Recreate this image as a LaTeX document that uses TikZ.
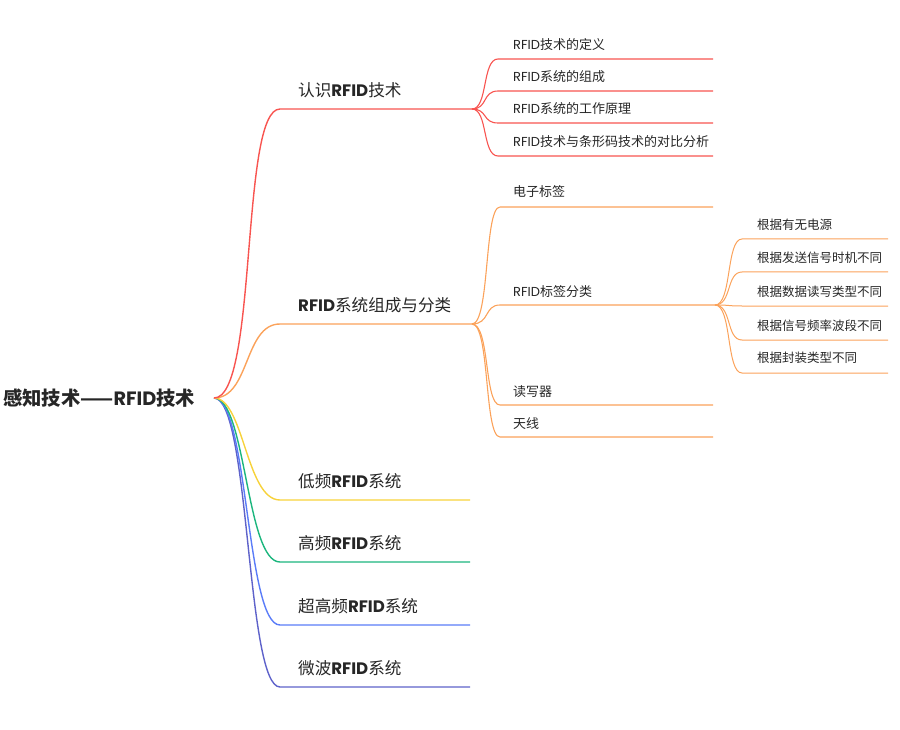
\documentclass[tikz,border=0pt]{standalone}
\usepackage{fontspec}
\setmainfont{Noto Sans CJK SC}
\newfontfamily\lat{Poppins}
\newcommand{\rf}{{\lat RFID}}
\newcommand{\rfb}{{\lat\bfseries RFID}}
\begin{document}
\begin{tikzpicture}[x=1pt,y=-1pt,
  every node/.style={inner sep=0pt,text=txt},
  rootlbl/.style={anchor=west,font=\fontsize{19.3}{21}\selectfont\bfseries},
  lone/.style={anchor=west,font=\fontsize{16.6}{18}\selectfont},
  ltwo/.style={anchor=west,font=\fontsize{13}{15}\selectfont},
  lthree/.style={anchor=west,font=\fontsize{12.5}{14}\selectfont},
  wone/.style={line width=1.4pt},
  wtwo/.style={line width=1.1pt},
  wthree/.style={line width=1pt}]
\definecolor{txt}{HTML}{262626}
\definecolor{cred}{HTML}{F85450}
\definecolor{corange}{HTML}{FBA25A}
\definecolor{cyellow}{HTML}{F7D23A}
\definecolor{cgreen}{HTML}{1CB67E}
\definecolor{cblue}{HTML}{5A7CF8}
\definecolor{cpurple}{HTML}{5E62CA}
\useasboundingbox (0,0) rectangle (900,730);

% root
\node[rootlbl] (root) at (3,398) {感知技术——\rfb 技术};
\coordinate (r) at (214,398);

% level 1 coordinates
\coordinate (a1s) at (280,109); \coordinate (a1e) at (472,109);
\coordinate (a2s) at (280,324); \coordinate (a2e) at (472,324);
\coordinate (a3s) at (280,500); \coordinate (a3e) at (470,500);
\coordinate (a4s) at (280,562); \coordinate (a4e) at (470,562);
\coordinate (a5s) at (280,625); \coordinate (a5e) at (470,625);
\coordinate (a6s) at (280,687); \coordinate (a6e) at (470,687);

\node[lone] (t1) at (298,90) {认识\rfb 技术};
\node[lone] (t2) at (298,305) {\rfb 系统组成与分类};
\node[lone] (t3) at (298,481) {低频\rfb 系统};
\node[lone] (t4) at (298,543) {高频\rfb 系统};
\node[lone] (t5) at (298,606) {超高频\rfb 系统};
\node[lone] (t6) at (298,668) {微波\rfb 系统};

\draw[wone,cpurple] (r) .. controls (250,398) and (246,687) .. (a6s) -- (a6e);
\draw[wone,cblue] (r) .. controls (248,398) and (246,625) .. (a5s) -- (a5e);
\draw[wone,cgreen] (r) .. controls (246,398) and (246,562) .. (a4s) -- (a4e);
\draw[wone,cyellow] (r) .. controls (244,398) and (246,500) .. (a3s) -- (a3e);
\draw[wone,corange] (r) .. controls (250,398) and (244,324) .. (a2s) -- (a2e);
\draw[wone,cred] (r) .. controls (258,398) and (240,109) .. (a1s) -- (a1e);

% level 2 under 认识RFID技术
\coordinate (b1s) at (498,59);  \coordinate (b1e) at (713,59);
\coordinate (b2s) at (498,91);  \coordinate (b2e) at (713,91);
\coordinate (b3s) at (498,123); \coordinate (b3e) at (713,123);
\coordinate (b4s) at (498,156); \coordinate (b4e) at (713,156);
\node[ltwo] (u1) at (513,45) {\rf 技术的定义};
\node[ltwo] (u2) at (513,77) {\rf 系统的组成};
\node[ltwo] (u3) at (513,109) {\rf 系统的工作原理};
\node[ltwo] (u4) at (513,142) {\rf 技术与条形码技术的对比分析};
\foreach \k in {1,2,3,4}
  \draw[wtwo,cred] (a1e) .. controls (488,109) and (482,0|-b\k s) .. (b\k s) -- (b\k e);

% level 2 under RFID系统组成与分类
\coordinate (c1s) at (500,207); \coordinate (c1e) at (713,207);
\coordinate (c2s) at (500,305); \coordinate (c2e) at (715,305);
\coordinate (c3s) at (500,405); \coordinate (c3e) at (713,405);
\coordinate (c4s) at (500,437); \coordinate (c4e) at (713,437);
\node[ltwo] (v1) at (513,192) {电子标签};
\node[ltwo] (v2) at (513,292) {\rf 标签分类};
\node[ltwo] (v3) at (513,392) {读写器};
\node[ltwo] (v4) at (513,424) {天线};
\foreach \k in {1,2,3,4}
  \draw[wtwo,corange] (a2e) .. controls (490,324) and (484,0|-c\k s) .. (c\k s) -- (c\k e);

% level 3 under RFID标签分类
\coordinate (d1s) at (742,239); \coordinate (d1e) at (888,239);
\coordinate (d2s) at (742,272); \coordinate (d2e) at (888,272);
\coordinate (d3s) at (742,306); \coordinate (d3e) at (888,306);
\coordinate (d4s) at (742,340); \coordinate (d4e) at (888,340);
\coordinate (d5s) at (742,373); \coordinate (d5e) at (888,373);
\node[lthree] (w1) at (757,225) {根据有无电源};
\node[lthree] (w2) at (757,258) {根据发送信号时机不同};
\node[lthree] (w3) at (757,292) {根据数据读写类型不同};
\node[lthree] (w4) at (757,326) {根据信号频率波段不同};
\node[lthree] (w5) at (757,358) {根据封装类型不同};
\foreach \k in {1,2,3,4,5}
  \draw[wthree,corange] (c2e) .. controls (732,305) and (726,0|-d\k s) .. (d\k s) -- (d\k e);
\end{tikzpicture}
\end{document}
